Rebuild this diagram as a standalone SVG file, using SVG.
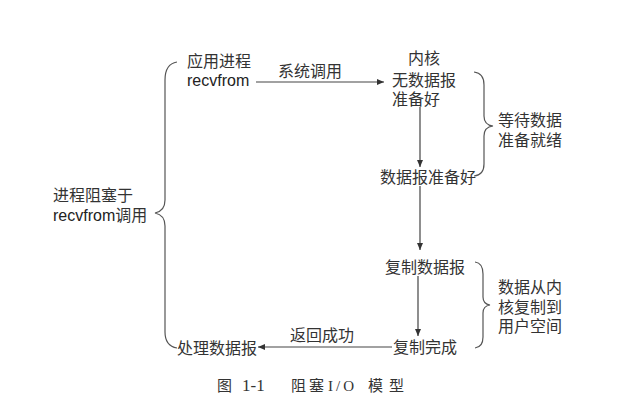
<svg xmlns="http://www.w3.org/2000/svg" width="643" height="415" viewBox="0 0 643 415">
<style>
.t{font-family:"Noto Sans CJK SC","Liberation Sans",sans-serif;font-size:16px;fill:#333}
.s{font-family:"Liberation Sans","Noto Sans CJK SC",sans-serif;font-size:16px;fill:#222}
.cap{font-family:"Liberation Serif","Noto Sans CJK SC",serif;font-size:15px;fill:#333}
.ln{stroke:#444;stroke-width:1.2;fill:none}
.br{stroke:#555;stroke-width:1.2;fill:none}
</style>
<defs>
<marker id="ah" markerWidth="8" markerHeight="8" refX="7" refY="4" orient="auto" markerUnits="userSpaceOnUse">
<path d="M0,1 L7,4 L0,7 Z" fill="#333"/>
</marker>
</defs>
<rect width="643" height="415" fill="#fff"/>
<g id="connectors">
<line class="ln" x1="256" y1="82" x2="384" y2="82" marker-end="url(#ah)"/>
<line class="ln" x1="420" y1="107" x2="420" y2="167" marker-end="url(#ah)"/>
<line class="ln" x1="420" y1="186" x2="420" y2="250" marker-end="url(#ah)"/>
<line class="ln" x1="418" y1="276" x2="418" y2="336" marker-end="url(#ah)"/>
<line class="ln" x1="392" y1="347" x2="258" y2="347" marker-end="url(#ah)"/>
</g>
<g id="braces">
<path class="br" d="M177,62 Q165,64 165,80 L165,200 Q165,211 155,213 Q165,215 165,226 L165,332 Q165,346 177,348"/>
<path class="br" d="M474,72 Q484,73 484,85 L484,116 Q484,125 493,126 Q484,127 484,136 L484,164 Q484,175 474,176"/>
<path class="br" d="M475,262 Q483,263 483,274 L483,297 Q483,304 490,305 Q483,306 483,313 L483,337 Q483,347 475,348"/>
</g>
<g id="app">
<text class="t" x="187" y="67">应用进程</text>
<text class="s" x="187" y="86">recvfrom</text>
</g>
<g id="syscall-label"><text class="t" x="278" y="77">系统调用</text></g>
<g id="kernel">
<text class="t" x="408" y="64">内核</text>
<text class="t" x="392" y="86">无数据报</text>
<text class="t" x="392" y="105">准备好</text>
</g>
<g id="ready"><text class="t" x="380" y="183">数据报准备好</text></g>
<g id="copy"><text class="t" x="385" y="273">复制数据报</text></g>
<g id="done"><text class="t" x="393" y="353">复制完成</text></g>
<g id="return-label"><text class="t" x="290" y="341">返回成功</text></g>
<g id="process"><text class="t" x="177" y="354">处理数据报</text></g>
<g id="blocked">
<text class="t" x="53" y="201">进程阻塞于</text>
<text x="53" y="221"><tspan class="s">recvfrom</tspan><tspan class="t">调用</tspan></text>
</g>
<g id="wait">
<text class="t" x="498" y="126">等待数据</text>
<text class="t" x="498" y="146">准备就绪</text>
</g>
<g id="copyphase">
<text class="t" x="498" y="293">数据从内</text>
<text class="t" x="498" y="313">核复制到</text>
<text class="t" x="498" y="332">用户空间</text>
</g>
<g id="caption">
<text class="cap" y="391"><tspan x="217">图</tspan><tspan x="242" font-size="17">1-1</tspan><tspan x="291">阻</tspan><tspan x="309">塞</tspan><tspan x="328" letter-spacing="3">I/O</tspan><tspan x="368">模</tspan><tspan x="389">型</tspan></text>
</g>
</svg>
